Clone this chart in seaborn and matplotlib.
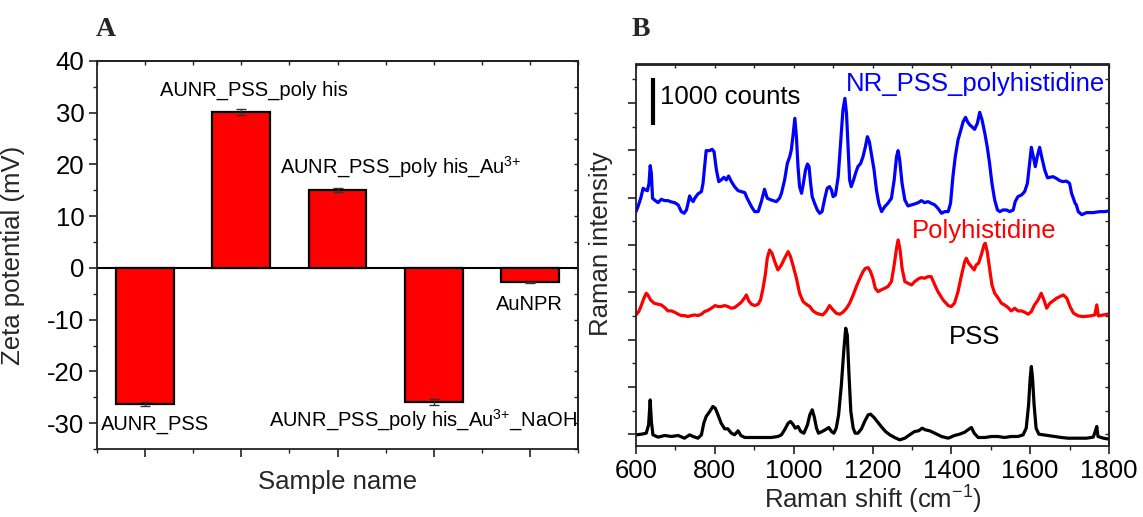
import matplotlib
matplotlib.use("Agg")
import matplotlib.pyplot as plt
import numpy as np
import pandas as pd
import seaborn as sns
from matplotlib.ticker import MultipleLocator, NullFormatter, FixedLocator

# ---------------- Panel A: zeta potential ----------------
samples = ["AUNR_PSS", "AUNR_PSS_poly his", "AUNR_PSS_poly his_Au3+",
           "AUNR_PSS_poly his_Au3+_NaOH", "AuNPR"]
sample_labels = ["AUNR_PSS", "AUNR_PSS_poly his", "AUNR_PSS_poly his_Au$^{3{+}}$",
                 "AUNR_PSS_poly his_Au$^{3{+}}$_NaOH", "AuNPR"]
zeta_mv = [-26.3, 30.1, 15.0, -25.9, -2.8]
zeta_err = [0.3, 0.6, 0.4, 0.6, 0.1]

# ---------------- Panel B: Raman spectra (offset traces) ----------------
blue_shift = [600, 605, 612, 618, 624, 629, 633, 636, 639, 642, 647, 656, 664, 673, 681, 690, 698, 707,
              715, 722, 728, 732, 736, 740, 745, 749, 757, 766, 770, 774, 778, 787, 793, 798, 804, 810,
              816, 823, 829, 835, 842, 850, 859, 867, 876, 882, 893, 901, 910, 918, 926, 933, 943, 956,
              964, 969, 977, 984, 990, 994, 998, 1003, 1007, 1011, 1015, 1020, 1024, 1030, 1035, 1039,
              1043, 1047, 1053, 1060, 1066, 1072, 1079, 1085, 1091, 1096, 1100, 1106, 1113, 1119, 1125,
              1130, 1134, 1138, 1142, 1146, 1152, 1157, 1163, 1170, 1176, 1182, 1187, 1192, 1197, 1204,
              1210, 1216, 1223, 1231, 1239, 1248, 1255, 1261, 1265, 1269, 1275, 1282, 1290, 1299, 1307,
              1316, 1324, 1332, 1341, 1349, 1358, 1366, 1375, 1383, 1392, 1398, 1404, 1410, 1417, 1424,
              1430, 1436, 1441, 1447, 1452, 1459, 1466, 1472, 1478, 1485, 1491, 1497, 1503, 1510, 1517,
              1523, 1531, 1540, 1548, 1557, 1562, 1569, 1578, 1586, 1593, 1599, 1603, 1608, 1613, 1618,
              1624, 1630, 1637, 1644, 1650, 1658, 1666, 1675, 1683, 1692, 1700, 1705, 1709, 1714, 1717,
              1722, 1731, 1743, 1760, 1777, 1790, 1800]
blue_counts = [4705, 4810, 4987, 5198, 5162, 5148, 5303, 5677, 5515, 4987, 4951, 4895, 4965, 4937, 4937,
               4909, 4895, 4846, 4705, 4670, 4740, 4881, 5036, 4965, 4916, 4987, 5078, 5128, 5303, 5656,
               5994, 5994, 6022, 5972, 5585, 5339, 5374, 5430, 5374, 5458, 5339, 5233, 5148, 5128, 5106,
               4987, 4810, 4705, 4705, 4916, 5177, 4987, 4951, 4916, 4987, 5092, 5374, 5726, 5867, 6008,
               6289, 6677, 6289, 5656, 5233, 5092, 5268, 5585, 5712, 5656, 5303, 5022, 4881, 4740, 4670,
               4705, 4987, 5198, 5233, 5162, 5022, 5057, 5444, 6148, 6853, 7099, 6782, 6078, 5374, 5233,
               5374, 5515, 5656, 5726, 5867, 6078, 6289, 6184, 5938, 5585, 5162, 4881, 4705, 4810, 4881,
               4987, 5374, 5867, 5994, 5797, 5303, 4951, 4825, 4846, 4867, 4895, 4937, 4895, 4916, 4881,
               4846, 4775, 4670, 4705, 4705, 4881, 5444, 5867, 6219, 6430, 6606, 6698, 6606, 6536, 6501,
               6444, 6571, 6804, 6642, 6360, 6078, 5726, 5303, 4951, 4740, 4705, 4740, 4740, 4705, 4740,
               4916, 5022, 5057, 5128, 5303, 5761, 6064, 5867, 5656, 5867, 6064, 5832, 5585, 5420, 5430,
               5444, 5409, 5360, 5339, 5350, 5303, 5092, 5000, 4881, 4850, 4705, 4640, 4684, 4684, 4705,
               4705, 4720]

red_shift = [600, 607, 614, 620, 626, 630, 637, 646, 656, 664, 673, 681, 690, 698, 707, 715, 723, 732,
             740, 749, 757, 766, 774, 783, 791, 801, 808, 816, 825, 833, 842, 850, 859, 867, 876, 880,
             886, 893, 901, 910, 916, 922, 928, 933, 939, 945, 952, 960, 969, 977, 986, 992, 998, 1007,
             1015, 1024, 1032, 1041, 1049, 1058, 1066, 1074, 1083, 1091, 1100, 1108, 1117, 1125, 1134,
             1142, 1151, 1159, 1168, 1176, 1182, 1189, 1195, 1201, 1207, 1214, 1222, 1231, 1239, 1248,
             1255, 1261, 1265, 1270, 1275, 1282, 1290, 1299, 1307, 1316, 1324, 1332, 1341, 1349, 1358,
             1366, 1379, 1392, 1400, 1408, 1417, 1425, 1434, 1438, 1444, 1451, 1458, 1463, 1469, 1476,
             1483, 1486, 1491, 1497, 1503, 1510, 1518, 1527, 1535, 1544, 1552, 1561, 1569, 1578, 1586,
             1595, 1603, 1611, 1620, 1628, 1635, 1642, 1650, 1667, 1684, 1693, 1701, 1710, 1722, 1735,
             1752, 1764, 1769, 1773, 1786, 1800]
red_counts = [2521, 2592, 2733, 2874, 2979, 2944, 2838, 2768, 2747, 2733, 2676, 2606, 2606, 2578, 2536,
              2507, 2507, 2486, 2507, 2521, 2507, 2536, 2592, 2620, 2662, 2719, 2698, 2698, 2719, 2698,
              2662, 2676, 2733, 2789, 2888, 2944, 2817, 2747, 2719, 2747, 2838, 3071, 3367, 3719, 3895,
              3824, 3648, 3472, 3578, 3719, 3860, 3754, 3578, 3296, 2979, 2803, 2747, 2698, 2606, 2557,
              2536, 2521, 2606, 2719, 2627, 2557, 2536, 2578, 2662, 2768, 2944, 3120, 3296, 3437, 3507,
              3521, 3437, 3296, 3085, 3014, 3050, 3085, 3120, 3226, 3578, 3930, 4106, 3895, 3507, 3226,
              3191, 3155, 3226, 3282, 3310, 3296, 3331, 3331, 3155, 3014, 2838, 2719, 2698, 2768, 3014,
              3331, 3648, 3719, 3613, 3543, 3472, 3578, 3613, 3789, 4000, 4036, 3860, 3507, 3155, 2979,
              2888, 2768, 2733, 2676, 2606, 2662, 2606, 2606, 2578, 2536, 2592, 2733, 2838, 2979, 2838,
              2663, 2768, 2874, 2944, 2874, 2698, 2557, 2500, 2486, 2500, 2521, 2733, 2500, 2521, 2543]

black_shift = [600, 614, 626, 632, 636, 639, 643, 656, 673, 690, 707, 723, 736, 745, 757, 766, 772, 778,
               787, 795, 801, 808, 816, 825, 833, 842, 850, 859, 866, 876, 893, 910, 926, 943, 960, 969,
               977, 986, 992, 998, 1004, 1011, 1018, 1026, 1035, 1041, 1047, 1052, 1058, 1063, 1072,
               1080, 1089, 1096, 1102, 1108, 1114, 1121, 1127, 1132, 1136, 1140, 1145, 1151, 1156, 1163,
               1172, 1180, 1189, 1195, 1204, 1212, 1222, 1233, 1244, 1256, 1269, 1282, 1294, 1307, 1317,
               1326, 1334, 1345, 1358, 1375, 1392, 1408, 1421, 1434, 1442, 1451, 1458, 1468, 1485, 1502,
               1518, 1535, 1552, 1569, 1582, 1590, 1596, 1600, 1603, 1606, 1610, 1615, 1622, 1633, 1645,
               1662, 1679, 1696, 1713, 1730, 1743, 1760, 1765, 1769, 1772, 1786, 1800]
black_counts = [-14, 0, 21, 197, 725, 268, -14, -63, -28, -49, -28, -85, -14, -49, -85, -14, 233, 374,
                479, 585, 550, 409, 233, 113, 113, 21, -14, 71, -28, -70, -70, -70, -70, -70, -49, -14,
                92, 233, 268, 212, 127, 162, 56, 21, 197, 409, 515, 374, 127, 21, 56, 92, 141, 56, 21,
                127, 409, 1042, 1747, 2240, 2099, 1324, 479, 127, 21, 21, 113, 268, 409, 423, 352, 268,
                162, 56, -14, -70, -120, -85, -14, 56, 71, 127, 92, 71, 21, -49, -85, -28, 0, 42, 92,
                141, 21, -70, -70, -49, -49, -70, -49, -49, -14, 127, 620, 1183, 1430, 1183, 620, 127,
                0, -14, -28, -49, -70, -85, -85, -85, -85, -63, 56, 162, -49, -85, -105]

# ---------------- Style ----------------
sns.set_theme(style="ticks")
plt.rcParams["font.family"] = ["Liberation Sans", "DejaVu Sans"]
plt.rcParams["mathtext.fontset"] = "custom"
plt.rcParams["mathtext.rm"] = "Liberation Sans"
plt.rcParams["mathtext.it"] = "Liberation Sans:italic"
plt.rcParams["mathtext.default"] = "regular"
plt.rcParams["axes.unicode_minus"] = False
plt.rcParams["axes.edgecolor"] = "#222222"
plt.rcParams["axes.linewidth"] = 1.3
plt.rcParams["xtick.color"] = "#222222"
plt.rcParams["ytick.color"] = "#222222"
plt.rcParams["xtick.labelcolor"] = "black"
plt.rcParams["ytick.labelcolor"] = "black"

W, H = 1143, 517
fig = plt.figure(figsize=(W / 100, H / 100), dpi=100)

def px_axes(left, top, right, bottom):
    return fig.add_axes([left / W, 1 - bottom / H, (right - left) / W, (bottom - top) / H])

TICK_FS = 18.5
LABEL_FS = 18.5
NOTE_FS = 14.5

# ======== Panel A ========
axA = px_axes(97, 61, 578, 449)
dfA = pd.DataFrame({"sample": samples, "zeta": zeta_mv})
sns.barplot(data=dfA, x="sample", y="zeta", order=samples, color="#FF0000",
            saturation=1, width=0.6, errorbar=None, edgecolor="black", linewidth=1.6,
            ax=axA, zorder=2)
axA.errorbar(np.arange(len(samples)), zeta_mv, yerr=zeta_err, fmt="none",
             ecolor="#333333", elinewidth=1.0, capsize=3.5, capthick=1.0, zorder=3)
axA.axhline(0, color="black", lw=1.5, zorder=1)

axA.set_xlim(-0.5, len(samples) - 0.5)
axA.set_ylim(-35, 40)
axA.yaxis.set_major_locator(MultipleLocator(10))
axA.yaxis.set_minor_locator(MultipleLocator(5))
axA.xaxis.set_major_locator(FixedLocator(np.arange(len(samples))))
axA.xaxis.set_minor_locator(FixedLocator(np.arange(len(samples) + 1) - 0.5))
axA.xaxis.set_major_formatter(NullFormatter())
axA.tick_params(axis="both", which="major", direction="out", length=6, width=1.2,
                labelsize=TICK_FS, pad=3)
axA.tick_params(axis="both", which="minor", direction="out", length=3, width=1.0)
axA.set_xlabel("Sample name", fontsize=LABEL_FS)
axA.set_ylabel("Zeta potential (mV)", fontsize=LABEL_FS)
axA.xaxis.set_label_coords(0.5, -0.055)
axA.yaxis.set_label_coords(-0.150, 0.5)

# mirrored inward ticks on top and right
topA = axA.secondary_xaxis("top")
topA.xaxis.set_major_locator(FixedLocator(np.arange(len(samples))))
topA.xaxis.set_minor_locator(FixedLocator(np.arange(len(samples) + 1) - 0.5))
topA.tick_params(which="both", direction="in", length=3, width=1.0, labeltop=False)
rightA = axA.secondary_yaxis("right")
rightA.yaxis.set_major_locator(MultipleLocator(10))
rightA.yaxis.set_minor_locator(MultipleLocator(5))
rightA.tick_params(which="both", direction="in", length=3, width=1.0, labelright=False)

note_pos = [(0.10, -30.2, "center"), (1.13, 34.3, "center"), (1.40, 19.5, "left"),
            (1.29, -29.4, "left"), (3.99, -7.1, "center")]
for label, (nx, ny, ha) in zip(sample_labels, note_pos):
    axA.text(nx, ny, label, fontsize=NOTE_FS, ha=ha, va="center", color="black", zorder=4)

fig.text(106 / W, 1 - 29 / H, "A", fontsize=20, fontweight="bold",
         family="Liberation Serif", ha="center", va="center")

# ======== Panel B ========
axB = px_axes(636, 64.5, 1109, 446)
spectra = [("NR_PSS_polyhistidine", blue_shift, blue_counts, "#0000FF"),
           ("Polyhistidine", red_shift, red_counts, "#FF0000"),
           ("PSS", black_shift, black_counts, "black")]
for name, xs, ys, col in spectra:
    df = pd.DataFrame({"shift": xs, "counts": ys})
    sns.lineplot(data=df, x="shift", y="counts", color=col, lw=2.3, sort=False,
                 estimator=None, ax=axB)

axB.set_xlim(600, 1800)
axB.set_ylim(-250, 7815)
axB.xaxis.set_major_locator(MultipleLocator(200))
axB.xaxis.set_minor_locator(MultipleLocator(100))
axB.yaxis.set_major_locator(MultipleLocator(1000))
axB.yaxis.set_minor_locator(MultipleLocator(500))
axB.yaxis.set_major_formatter(NullFormatter())
axB.tick_params(axis="both", which="major", direction="out", length=6, width=1.2,
                labelsize=TICK_FS, pad=3)
axB.tick_params(axis="both", which="minor", direction="out", length=3, width=1.0)
axB.set_xlabel("Raman shift (cm$^{-1}$)", fontsize=LABEL_FS)
axB.set_ylabel("Raman intensity", fontsize=LABEL_FS)
axB.xaxis.set_label_coords(0.5, -0.10)
axB.yaxis.set_label_coords(-0.049, 0.53)

topB = axB.secondary_xaxis("top")
topB.xaxis.set_major_locator(MultipleLocator(200))
topB.xaxis.set_minor_locator(MultipleLocator(100))
topB.tick_params(which="both", direction="in", length=3, width=1.0, labeltop=False)
rightB = axB.secondary_yaxis("right")
rightB.yaxis.set_major_locator(MultipleLocator(1000))
rightB.yaxis.set_minor_locator(MultipleLocator(500))
rightB.tick_params(which="both", direction="in", length=3, width=1.0, labelright=False)

# scale bar: 1000 counts
axB.vlines(643, 6535, 7535, color="black", lw=3)
axB.text(660, 7127, "1000 counts", fontsize=LABEL_FS, ha="left", va="center", color="black")
axB.text(1132, 7408, "NR_PSS_polyhistidine", fontsize=LABEL_FS, ha="left", va="center", color="#0000FF")
axB.text(1299, 4303, "Polyhistidine", fontsize=LABEL_FS, ha="left", va="center", color="#FF0000")
axB.text(1394, 2063, "PSS", fontsize=LABEL_FS, ha="left", va="center", color="black")

fig.text(641 / W, 1 - 29 / H, "B", fontsize=20, fontweight="bold",
         family="Liberation Serif", ha="center", va="center")

fig.savefig("out.png", dpi=100)
